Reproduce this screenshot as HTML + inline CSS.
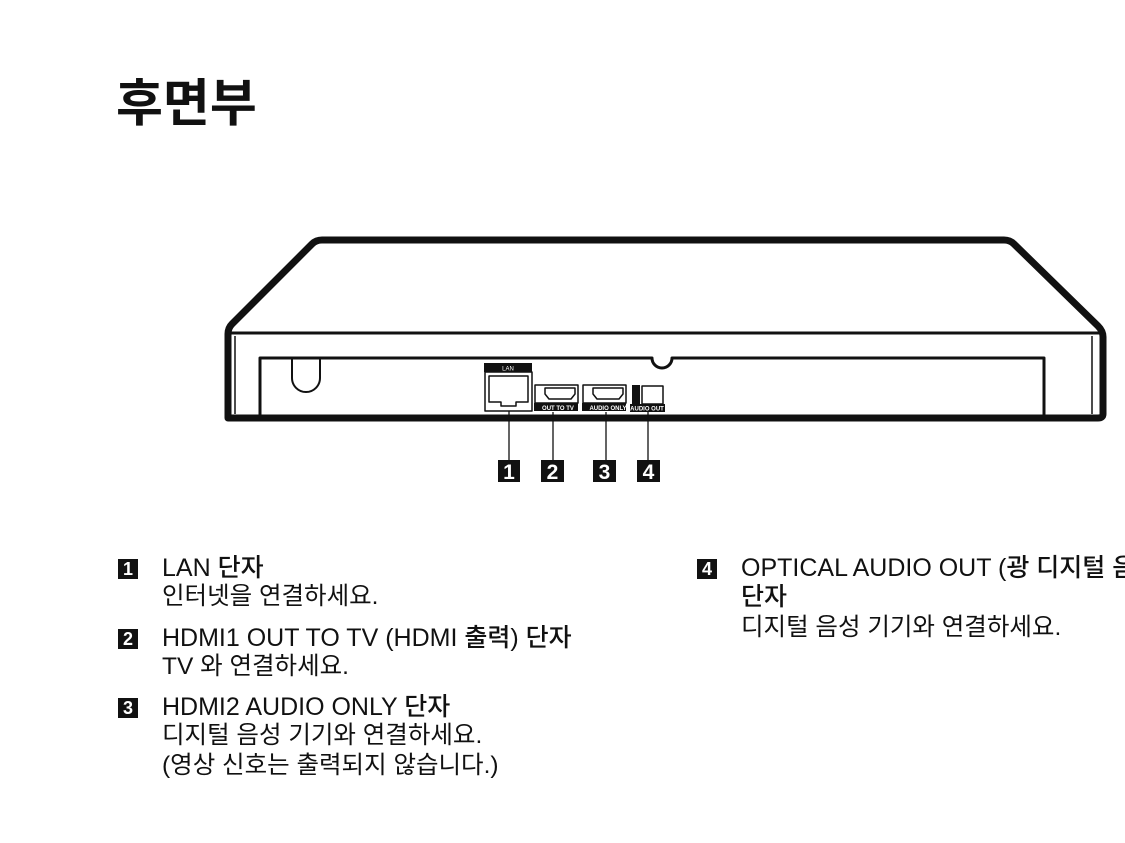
<!DOCTYPE html>
<html><head><meta charset="utf-8"><style>
body{margin:0;width:1125px;height:843px;background:#fff;position:relative;overflow:hidden;font-family:"Liberation Sans","Noto Sans CJK KR",sans-serif;color:#111}
.t{position:absolute;white-space:nowrap;font-size:24.5px;line-height:30px}
.h{font-weight:500;font-size:25px}
.b{position:absolute;width:20px;height:20px;background:#111;color:#fff;font-size:18px;font-weight:bold;line-height:20px;text-align:center;font-family:"Liberation Sans",sans-serif}
</style></head><body>
<div class="t" style="left:116px;top:72px;font-size:51px;line-height:64px;font-weight:bold">후면부</div>
<svg style="position:absolute;left:0;top:0" width="1125" height="843">
<g fill="none" stroke="#111" stroke-linejoin="round">
<path d="M228 418 L228 334 Q228 328 232 324 L312 244 Q316 240 322 240 L1004 240 Q1010 240 1014 244 L1098 326 Q1103 331 1103 337 L1103 414 Q1103 418 1098 418 Z" stroke-width="7"/>
<line x1="231" y1="333" x2="1100" y2="333" stroke-width="3"/>
<line x1="235" y1="336" x2="235" y2="414" stroke-width="1.5"/>
<line x1="1092" y1="336" x2="1092" y2="414" stroke-width="1.5"/>
<path d="M260 418 L260 358 L652 358 A10 10 0 0 0 672 358 L1044 358 L1044 418" stroke-width="3"/>
<path d="M292 358 L292 378 A14 14 0 0 0 320 378 L320 358" stroke-width="2"/>
<rect x="485" y="372" width="47" height="39" stroke-width="1.5"/>
<path d="M489 376 H528 V402 H516 V406 H501 V402 H489 Z" stroke-width="1.5"/>
<rect x="535" y="385" width="43" height="18" stroke-width="1.5"/>
<path d="M545 388 H575 V394 L571 399 H549 L545 394 Z" stroke-width="1.5"/>
<rect x="583" y="385" width="43" height="18" stroke-width="1.5"/>
<path d="M593 388 H623 V394 L619 399 H597 L593 394 Z" stroke-width="1.5"/>
<rect x="642" y="386" width="21" height="18" stroke-width="1.5"/>
<g stroke-width="1.3"><line x1="509" y1="411" x2="509" y2="460"/><line x1="553" y1="412" x2="553" y2="460"/><line x1="606" y1="412" x2="606" y2="460"/><line x1="648" y1="412" x2="648" y2="460"/></g>
</g>
<rect x="484" y="363" width="48" height="9" fill="#111"/>
<text x="508" y="370.5" font-size="6" fill="#fff" text-anchor="middle" font-family="Liberation Sans">LAN</text>
<rect x="534" y="403" width="44" height="8" fill="#111"/>
<text x="558" y="410" font-size="6" fill="#fff" text-anchor="middle" font-family="Liberation Sans" font-weight="bold">OUT TO TV</text>
<rect x="582" y="403" width="44" height="8" fill="#111"/>
<text x="608" y="410" font-size="6" fill="#fff" text-anchor="middle" font-family="Liberation Sans" font-weight="bold">AUDIO ONLY</text>
<rect x="630" y="404" width="35" height="8" fill="#111"/>
<text x="647" y="410.5" font-size="6" fill="#fff" text-anchor="middle" font-family="Liberation Sans" font-weight="bold">AUDIO OUT</text>
<rect x="632" y="385" width="8" height="19" fill="#111"/>
<g font-family="Liberation Sans" font-weight="bold" font-size="21" fill="#fff" text-anchor="middle">
<rect x="498" y="460" width="22" height="22" fill="#111"/><text x="509" y="479">1</text>
<rect x="541" y="460" width="23" height="22" fill="#111"/><text x="552.5" y="479">2</text>
<rect x="593" y="460" width="23" height="22" fill="#111"/><text x="604.5" y="479">3</text>
<rect x="637" y="460" width="23" height="22" fill="#111"/><text x="648.5" y="479">4</text>
</g>
</svg>
<div class="b" style="left:118px;top:559px">1</div>
<div class="t h" style="left:162px;top:553px">LAN 단자</div>
<div class="t" style="left:162px;top:582px">인터넷을 연결하세요.</div>
<div class="b" style="left:118px;top:629px">2</div>
<div class="t h" style="left:162px;top:623px">HDMI1 OUT TO TV (HDMI 출력) 단자</div>
<div class="t" style="left:162px;top:652px">TV 와 연결하세요.</div>
<div class="b" style="left:118px;top:698px">3</div>
<div class="t h" style="left:162px;top:692px">HDMI2 AUDIO ONLY 단자</div>
<div class="t" style="left:162px;top:721px">디지털 음성 기기와 연결하세요.</div>
<div class="t" style="left:162px;top:751px">(영상 신호는 출력되지 않습니다.)</div>
<div class="b" style="left:697px;top:559px">4</div>
<div class="t h" style="left:741px;top:553px">OPTICAL AUDIO OUT (광 디지털 음성)</div>
<div class="t h" style="left:741px;top:582px">단자</div>
<div class="t" style="left:741px;top:613px">디지털 음성 기기와 연결하세요.</div>
</body></html>
